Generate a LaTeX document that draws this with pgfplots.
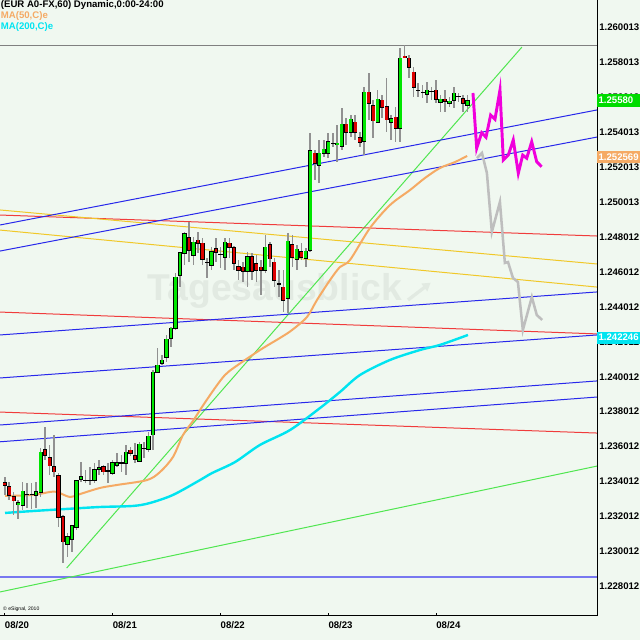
\documentclass[border=0pt]{standalone}
\usepackage{pgfplots}
\pgfplotsset{compat=1.18}
\usepackage{pgfplotstable}
\usetikzlibrary{arrows.meta}
\usepackage{fontspec}
\setmainfont{Liberation Sans}

\definecolor{bgcol}{RGB}{240,248,240}
\definecolor{tlinecol}{RGB}{40,40,235}
\definecolor{rlinecol}{RGB}{240,60,60}
\definecolor{ylinecol}{RGB}{240,200,40}
\definecolor{glinecol}{RGB}{80,230,80}
\definecolor{hlinecol}{RGB}{128,128,128}
\definecolor{blinecol}{RGB}{120,120,240}
\definecolor{maorange}{RGB}{245,170,100}
\definecolor{macyan}{RGB}{0,228,240}
\definecolor{fcmag}{RGB}{240,0,220}
\definecolor{fcgray}{RGB}{190,190,190}
\definecolor{candleup}{RGB}{0,230,0}
\definecolor{candledn}{RGB}{220,0,0}
\definecolor{wickcol}{RGB}{145,145,145}
\definecolor{wmarkcol}{RGB}{226,234,226}
\definecolor{taggreen}{RGB}{0,220,0}

\newcommand\lbl{\fontsize{7.2}{8}\selectfont\bfseries}

% hourly candles: h = hours since 08/20 00:00
\pgfplotstableread{
h o hi lo c
0 1.23395 1.23426 1.23325 1.23382
1 1.23372 1.23401 1.23296 1.23325
2 1.23315 1.23343 1.23210 1.23292
3 1.23269 1.23296 1.23186 1.23281
4 1.23266 1.23401 1.23239 1.23347
5 1.23330 1.23392 1.23249 1.23330
6 1.23330 1.23395 1.23243 1.23330
7 1.23323 1.23401 1.23249 1.23347
8 1.23340 1.23592 1.23311 1.23571
9 1.23586 1.23712 1.23525 1.23553
10 1.23540 1.23611 1.23439 1.23492
11 1.23486 1.23668 1.23429 1.23458
12 1.23439 1.23449 1.23143 1.23200
13 1.23200 1.23210 1.22934 1.23057
14 1.23044 1.23105 1.22972 1.23086
15 1.23073 1.23153 1.23000 1.23149
16 1.23140 1.23414 1.23124 1.23410
17 1.23414 1.23515 1.23401 1.23433
18 1.23410 1.23468 1.23392 1.23410
19 1.23410 1.23486 1.23382 1.23410
20 1.23410 1.23506 1.23392 1.23468
21 1.23472 1.23525 1.23439 1.23483
22 1.23486 1.23496 1.23439 1.23458
23 1.23464 1.23506 1.23392 1.23464
24 1.23449 1.23525 1.23439 1.23509
25 1.23496 1.23563 1.23486 1.23509
26 1.23508 1.23553 1.23456 1.23508
27 1.23508 1.23611 1.23439 1.23571
28 1.23582 1.23599 1.23548 1.23565
29 1.23553 1.23622 1.23508 1.23531
30 1.23519 1.23629 1.23513 1.23616
31 1.23593 1.23628 1.23536 1.23593
32 1.23588 1.23685 1.23571 1.23662
33 1.23668 1.24040 1.23582 1.24028
34 1.24028 1.24165 1.24022 1.24068
35 1.24080 1.24125 1.24068 1.24097
36 1.24114 1.24240 1.24085 1.24217
37 1.24223 1.24286 1.24171 1.24280
38 1.24280 1.24594 1.24268 1.24572
39 1.24583 1.24715 1.24514 1.24709
40 1.24709 1.24829 1.24640 1.24818
41 1.24800 1.24886 1.24657 1.24726
42 1.24697 1.24800 1.24640 1.24772
43 1.24783 1.24829 1.24709 1.24766
44 1.24766 1.24795 1.24640 1.24675
45 1.24657 1.24680 1.24566 1.24657
46 1.24640 1.24743 1.24612 1.24715
47 1.24737 1.24795 1.24657 1.24715
48 1.24703 1.24743 1.24623 1.24703
49 1.24686 1.24795 1.24612 1.24772
50 1.24766 1.24795 1.24680 1.24743
51 1.24743 1.24749 1.24612 1.24652
52 1.24634 1.24669 1.24554 1.24612
53 1.24629 1.24657 1.24543 1.24606
54 1.24606 1.24715 1.24514 1.24686
55 1.24686 1.24709 1.24554 1.24606
56 1.24652 1.24697 1.24543 1.24612
57 1.24629 1.24669 1.24469 1.24612
58 1.24612 1.24812 1.24594 1.24743
59 1.24755 1.24772 1.24629 1.24675
60 1.24657 1.24680 1.24514 1.24554
61 1.24532 1.24612 1.24457 1.24532
62 1.24514 1.24612 1.24371 1.24440
63 1.24451 1.24823 1.24366 1.24777
64 1.24755 1.24812 1.24629 1.24686
65 1.24675 1.24755 1.24612 1.24732
66 1.24720 1.24766 1.24669 1.24686
67 1.24680 1.24737 1.24629 1.24720
68 1.24726 1.25395 1.24715 1.25298
69 1.25281 1.25298 1.25126 1.25224
70 1.25212 1.25355 1.25109 1.25281
71 1.25281 1.25355 1.25258 1.25304
72 1.25281 1.25395 1.25252 1.25349
73 1.25338 1.25395 1.25315 1.25338
74 1.25332 1.25441 1.25229 1.25338
75 1.25321 1.25538 1.25298 1.25447
76 1.25447 1.25481 1.25327 1.25401
77 1.25401 1.25498 1.25372 1.25475
78 1.25458 1.25498 1.25355 1.25401
79 1.25372 1.25401 1.25315 1.25344
80 1.25349 1.25658 1.25269 1.25630
81 1.25630 1.25738 1.25470 1.25567
82 1.25550 1.25584 1.25367 1.25464
83 1.25458 1.25641 1.25452 1.25590
84 1.25584 1.25613 1.25481 1.25544
85 1.25544 1.25710 1.25401 1.25470
86 1.25458 1.25498 1.25355 1.25481
87 1.25487 1.25544 1.25344 1.25424
88 1.25424 1.25881 1.25344 1.25824
89 1.25836 1.25899 1.25824 1.25830
90 1.25824 1.25841 1.25710 1.25773
91 1.25744 1.25773 1.25601 1.25658
92 1.25641 1.25681 1.25601 1.25641
93 1.25630 1.25670 1.25595 1.25630
94 1.25618 1.25687 1.25567 1.25641
95 1.25635 1.25658 1.25584 1.25635
96 1.25641 1.25698 1.25567 1.25590
97 1.25573 1.25613 1.25515 1.25590
98 1.25590 1.25641 1.25515 1.25578
99 1.25567 1.25601 1.25544 1.25578
100 1.25584 1.25658 1.25538 1.25624
101 1.25607 1.25624 1.25573 1.25607
102 1.25595 1.25613 1.25515 1.25567
103 1.25555 1.25613 1.25515 1.25580
}\candles

\pgfplotsset{chartbase/.style={
  width=447.75pt, height=462pt, scale only axis,
  at={(0,18pt)}, anchor=south west,
  xmin=-1.046, xmax=131.8, ymin=1.226325, ymax=1.26156,
  clip mode=individual, axis line style={draw=none}}}

\begin{document}
\begin{tikzpicture}
\useasboundingbox (0,0) rectangle (480pt,480pt);
\fill[bgcol] (0,0) rectangle (480pt,480pt);

% watermark
\node[font=\fontsize{28}{30}\selectfont\bfseries, text=wmarkcol, inner sep=0pt]
  at (206pt,262pt) {Tagesausblick};
\draw[wmarkcol, line width=2.5pt, -{Triangle[length=6pt,width=7pt]}] (306pt,255pt) -- (323pt,268pt);

\begin{axis}[chartbase,
  xtick={0,24,48,72,96},
  xticklabels={08/20,08/21,08/22,08/23,08/24},
  xtick pos=bottom, tick align=inside, major tick length=2.5pt,
  xtick style={black, line width=0.6pt},
  xticklabel style={anchor=north west, inner xsep=0pt, inner ysep=1pt, yshift=-3pt},
  ytick={1.228012,1.230012,1.232012,1.234012,1.236012,1.238012,1.240012,1.242012,1.244012,1.246012,1.248012,1.250013,1.252013,1.254013,1.256013,1.258013,1.260013},
  yticklabels={1.228012,1.230012,1.232012,1.234012,1.236012,1.238012,1.240012,1.242012,1.244012,1.246012,1.248012,1.250013,1.252013,1.254013,1.256013,1.258013,1.260013},
  ytick pos=right, yticklabel pos=right, ytick style={draw=none},
  yticklabel style={anchor=west, inner xsep=0pt, xshift=1.5pt},
  tick label style={font=\lbl, text=black},
]
% drawn trend lines
\addplot[hlinecol, line width=0.9pt] coordinates {(-1.046,1.25895) (131.8,1.25895)};
\addplot[blinecol, line width=1.5pt] coordinates {(-1.046,1.22856) (131.8,1.22856)};
\addplot[glinecol, line width=0.75pt] coordinates {(13.8,1.22907) (115.1,1.25887)};
\addplot[glinecol, line width=0.75pt] coordinates {(-1.046,1.22770) (131.8,1.23490)};
\addplot[rlinecol, line width=0.75pt] coordinates {(-1.046,1.24926) (131.8,1.24806)};
\addplot[ylinecol, line width=0.75pt] coordinates {(-1.046,1.24955) (131.8,1.24646)};
\addplot[ylinecol, line width=0.75pt] coordinates {(-1.046,1.24840) (131.8,1.24514)};
\addplot[tlinecol, line width=0.75pt] coordinates {(-1.046,1.24869) (131.8,1.25527)};
\addplot[tlinecol, line width=0.75pt] coordinates {(-1.046,1.24720) (131.8,1.25372)};
\addplot[rlinecol, line width=0.75pt] coordinates {(-1.046,1.24371) (131.8,1.24246)};
\addplot[tlinecol, line width=0.75pt] coordinates {(-1.046,1.24240) (131.8,1.24486)};
\addplot[tlinecol, line width=0.75pt] coordinates {(-1.046,1.23994) (131.8,1.24240)};
\addplot[rlinecol, line width=0.75pt] coordinates {(-1.046,1.23799) (131.8,1.23679)};
\addplot[tlinecol, line width=0.75pt] coordinates {(-1.046,1.23725) (131.8,1.23977)};
\addplot[tlinecol, line width=0.75pt] coordinates {(-1.046,1.23629) (131.8,1.23885)};

% MA(50)
\addplot[maorange, line width=1.5pt, smooth] coordinates {
(0.07,1.23319) (6.30,1.23325) (10.08,1.23342) (11.64,1.23342) (14.53,1.23313)
(16.76,1.23330) (21.21,1.23365) (24.99,1.23382) (31.66,1.23410) (34.56,1.23456)
(37.45,1.23542) (39.68,1.23668) (41.90,1.23748) (43.90,1.23828) (46.80,1.23937)
(49.02,1.24011) (51.25,1.24057) (56.81,1.24154) (61.26,1.24223) (63.93,1.24268)
(67.27,1.24343) (69.49,1.24440) (72.39,1.24554) (74.61,1.24629) (76.84,1.24669)
(81.29,1.24852) (85.74,1.24983) (90.19,1.25069) (93.53,1.25138) (96.86,1.25195)
(100.2,1.25229) (102.9,1.25264)};
% MA(200)
\addplot[macyan, line width=1.8pt, smooth] coordinates {
(0.07,1.23222) (6.30,1.23233) (13.86,1.23245) (21.21,1.23256) (28.55,1.23262)
(32.33,1.23279) (37.45,1.23325) (43.46,1.23410) (46.13,1.23450) (51.25,1.23513)
(56.81,1.23611) (63.48,1.23696) (70.16,1.23822) (74.61,1.23914) (79.06,1.24011)
(85.74,1.24097) (92.41,1.24154) (96.86,1.24183) (103.09,1.24240)};

% wicks
\addplot[draw=none, mark=none, forget plot,
  error bars/.cd, y dir=both, y explicit, error mark=none,
  error bar style={draw=wickcol, line width=1.2pt, solid}]
  table[x=h, y expr={(\thisrow{hi}+\thisrow{lo})/2}, y error expr={(\thisrow{hi}-\thisrow{lo})/2}] {\candles};
\end{axis}

\begin{axis}[chartbase, xtick=\empty, ytick=\empty]
% candle bodies: outline, then up and down fills
\addplot[draw=none, mark=none, forget plot,
  error bars/.cd, y dir=both, y explicit, error mark=none,
  error bar style={draw=black, line width=3.2pt, solid, line cap=butt}]
  table[x=h, y expr={(\thisrow{o}+\thisrow{c})/2}, y error expr={abs(\thisrow{c}-\thisrow{o})/2+0.00003}] {\candles};
\addplot[draw=none, mark=none, forget plot,
  error bars/.cd, y dir=both, y explicit, error mark=none,
  error bar style={draw=candleup, line width=2.0pt, solid, line cap=butt}]
  table[x=h, y expr={(\thisrow{o}+\thisrow{c})/2}, y error expr={max((\thisrow{c}-\thisrow{o})/2-0.000016,0)}] {\candles};
\addplot[draw=none, mark=none, forget plot,
  error bars/.cd, y dir=both, y explicit, error mark=none,
  error bar style={draw=candledn, line width=2.0pt, solid, line cap=butt}]
  table[x=h, y expr={(\thisrow{o}+\thisrow{c})/2}, y error expr={max((\thisrow{o}-\thisrow{c})/2-0.000016,0)}] {\candles};

% projected paths
\addplot[fcgray, line width=1.9pt] coordinates {
(105.1,1.25252) (106.2,1.25281) (107.3,1.25166) (108.4,1.24829) (110.2,1.25001)
(111.3,1.24652) (112.0,1.24657) (113.1,1.24566) (114.2,1.24543) (115.3,1.24268)
(117.3,1.24457) (118.4,1.24354) (119.6,1.24326)};
\addplot[fcmag, line width=2.2pt] coordinates {
(104.2,1.25624) (105.03,1.25308) (106.14,1.25397) (107.1,1.25371) (108.14,1.25498)
(109.1,1.25474) (110.21,1.25641) (110.95,1.25241) (112.06,1.25269) (113.17,1.25355)
(114.29,1.25165) (115.27,1.25269) (116.16,1.25251) (117.27,1.25345) (118.38,1.25231)
(119.49,1.25202)};

% frame (bottom and right only)
\draw[black, line width=0.75pt] (rel axis cs:0,0) -- (rel axis cs:1,0) -- (rel axis cs:1,1);

% price tags
\node[fill=taggreen, text=white, font=\lbl, anchor=west,
  inner xsep=1pt, inner ysep=0pt, minimum height=10pt, text width=31pt]
  at (axis cs:131.8,1.25580) {1.25580};
\node[fill=maorange, text=white, font=\lbl, anchor=west,
  inner xsep=1pt, inner ysep=0pt, minimum height=9pt, text width=31pt]
  at (axis cs:131.8,1.252569) {1.252569};
\node[fill=macyan, text=white, font=\lbl, anchor=west,
  inner xsep=1pt, inner ysep=0pt, minimum height=9pt, text width=31pt]
  at (axis cs:131.8,1.242246) {1.242246};
\end{axis}

% study legend and credit
\node[anchor=north west, inner xsep=0.5pt, inner ysep=0.5pt, align=left,
  font=\fontsize{7.2}{8.25}\selectfont\bfseries] at (0,480pt)
  {(EUR A0-FX,60) Dynamic,0:00-24:00\\
   \textcolor{maorange}{MA(50,C)e}\\
   \textcolor{macyan}{MA(200,C)e}};
\node[anchor=base west, inner sep=0pt, font=\fontsize{3.8}{4}\selectfont]
  at (2.2pt,21.8pt) {\textcopyright{} eSignal, 2010};
\end{tikzpicture}
\end{document}
